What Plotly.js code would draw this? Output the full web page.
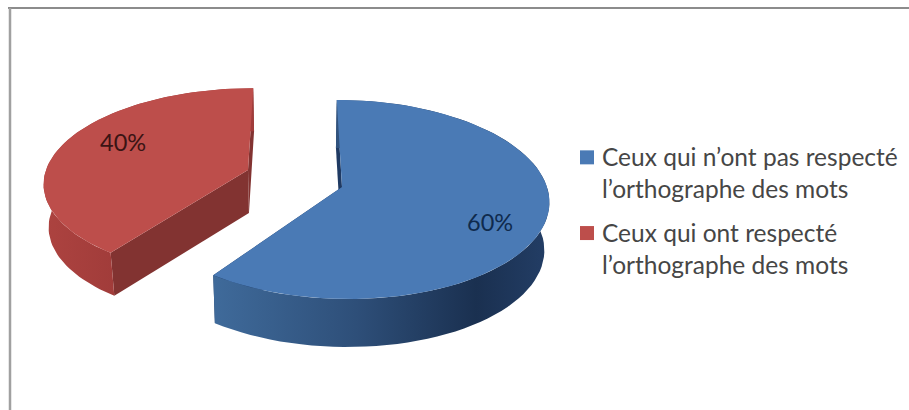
<!DOCTYPE html>
<html><head><meta charset="utf-8">
<script src="https://cdn.plot.ly/plotly-3.0.1.min.js"></script>
<style>html,body{margin:0;padding:0;background:#fff}#c{width:909px;height:410px}</style>
</head><body><div id="c"></div>
<script>
const categories = ["Ceux qui n’ont pas respecté<br>l’orthographe des mots", "Ceux qui ont respecté<br>l’orthographe des mots"];
const shares = [60, 40];
const labels = ["60%", "40%"];

// perspective model of the exploded 3D pie
const VX = 295, P = 0.125, SHRINK = 0.98;
const geo = [
  {cx:342, cy:187, a:205, b:98, depth:48, face:'#4a7ab5', wall:'#1f3a63',
   rim:[[0,'#3f6a9a'],[0.42,'#2e4f79'],[0.78,'#1a3050'],[1,'#233e66']], x0:215, x1:550},
  {cx:248, cy:170, a:202, b:92, depth:43, face:'#bd4e4b', wall:'#823331',
   rim:[[0,'#ad4340'],[1,'#a13c3a']], x0:42, x1:115}
];
function pt(g, th, r, down){
  const X = r*Math.sin(th), Y = r*Math.cos(th);
  const s = 1/(1+P*Y);
  const f = down ? SHRINK : 1;
  return [VX + (g.cx-VX + g.a*X)*s*f, g.cy - g.b*Y*s + (down ? g.depth : 0)];
}
function arc(g, a0, a1, down){
  const out = [], n = 80;
  for(let i=0;i<=n;i++) out.push(pt(g, a0+(a1-a0)*i/n, 1, down));
  return out;
}
function poly(points, fill, extra){
  return Object.assign({type:'scatter', mode:'lines', x:points.map(p=>p[0]), y:points.map(p=>p[1]),
    fill:'toself', fillcolor:fill, line:{width:0}, hoverinfo:'skip', showlegend:false}, extra||{});
}
const traces = [];
let start = 0;
const total = shares.reduce((a,b)=>a+b,0);
shares.forEach((v,i)=>{
  const g = geo[i];
  const a0 = start, a1 = start + v/total*2*Math.PI;
  start = a1;
  const apex = pt(g,0,0,false), apexD = pt(g,0,0,true);
  // radial walls
  [a0,a1].forEach(a=>{
    traces.push(poly([apex, pt(g,a,1,false), pt(g,a,1,true), apexD, apex], g.wall));
  });
  // outer rim
  const rim = arc(g,a0,a1,false).concat(arc(g,a0,a1,true).reverse());
  traces.push(poly(rim, undefined, {
    fillcolor:undefined,
    fillgradient:{type:'horizontal', colorscale:g.rim, start:g.x0, stop:g.x1}
  }));
  // top face
  traces.push(poly([apex].concat(arc(g,a0,a1,false)).concat([apex]), g.face));
});
// legend entries
categories.forEach((c,i)=>{
  traces.push({type:'scatter', mode:'markers', x:[null], y:[null], name:c, legendgroup:'g'+i,
    marker:{symbol:'square', size:14, color:geo[i].face}, hoverinfo:'skip'});
});
const layout = {
  width:909, height:410, margin:{l:0,r:0,t:0,b:0},
  paper_bgcolor:'#fff', plot_bgcolor:'#fff',
  xaxis:{range:[0,909], visible:false, fixedrange:true},
  yaxis:{range:[410,0], visible:false, fixedrange:true},
  showlegend:true,
  legend:{x:562/909, y:1-134/410, font:{family:'Lato, Carlito, sans-serif', size:24.5, color:'#464646'},
    bgcolor:'rgba(0,0,0,0)', tracegroupgap:9, xanchor:'left', yanchor:'top', itemwidth:30},
  font:{family:'Lato, Carlito, sans-serif'},
  annotations:[
    {x:490, y:222, xref:'x', yref:'y', text:labels[0], showarrow:false, font:{size:23.5, color:'#0f2a4d', family:'Lato, sans-serif'}},
    {x:123, y:142, xref:'x', yref:'y', text:labels[1], showarrow:false, font:{size:23.5, color:'#3a1414', family:'Lato, sans-serif'}}
  ],
  shapes:[
    {type:'line', xref:'x', yref:'y', x0:8, x1:909, y0:8, y1:8, line:{color:'#8c8c8c', width:2}},
    {type:'line', xref:'x', yref:'y', x0:10, x1:10, y0:8, y1:410, line:{color:'#a0a0a0', width:2.5}}
  ]
};
Plotly.newPlot('c', traces, layout, {displayModeBar:false, staticPlot:true}).then(()=>{
  // the reference keeps its legend squares closer to the text and on the first line
  document.querySelectorAll('.legend .legendpoints').forEach(el=>{
    el.setAttribute('transform', (el.getAttribute('transform')||'') + ' translate(5,-15)');
  });
});
</script></body></html>
